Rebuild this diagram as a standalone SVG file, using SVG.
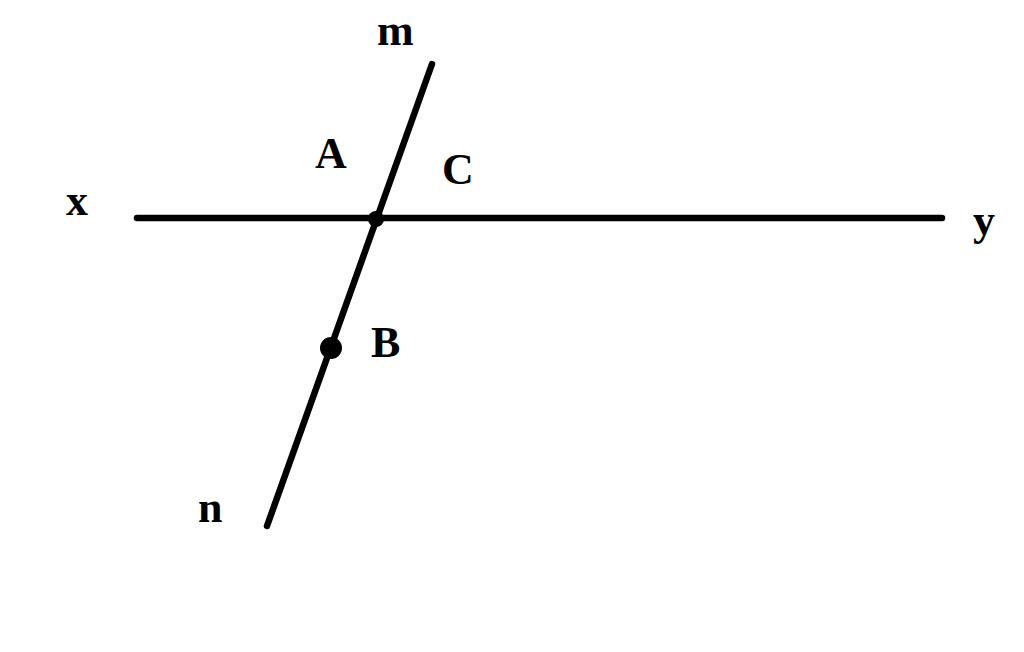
<svg xmlns="http://www.w3.org/2000/svg" width="1024" height="652" viewBox="0 0 1024 652">
<style>
.ln{stroke:#000;stroke-width:6.5;stroke-linecap:round;fill:none}
.lb{font-family:"Liberation Serif","Times New Roman",serif;font-weight:bold;font-size:44px;fill:#000}
</style>
<rect width="1024" height="652" fill="#fff"/>
<line class="ln" x1="137" y1="218" x2="942" y2="218"/>
<line class="ln" x1="432" y1="64" x2="267" y2="526"/>
<circle cx="376" cy="219" r="8"/>
<circle cx="331" cy="348" r="11"/>
<text class="lb" x="377" y="45">m</text>
<text class="lb" x="315" y="168">A</text>
<text class="lb" x="442" y="184">C</text>
<text class="lb" x="66" y="215">x</text>
<text class="lb" x="973" y="235">y</text>
<text class="lb" x="371" y="357">B</text>
<text class="lb" x="198" y="522">n</text>
</svg>
